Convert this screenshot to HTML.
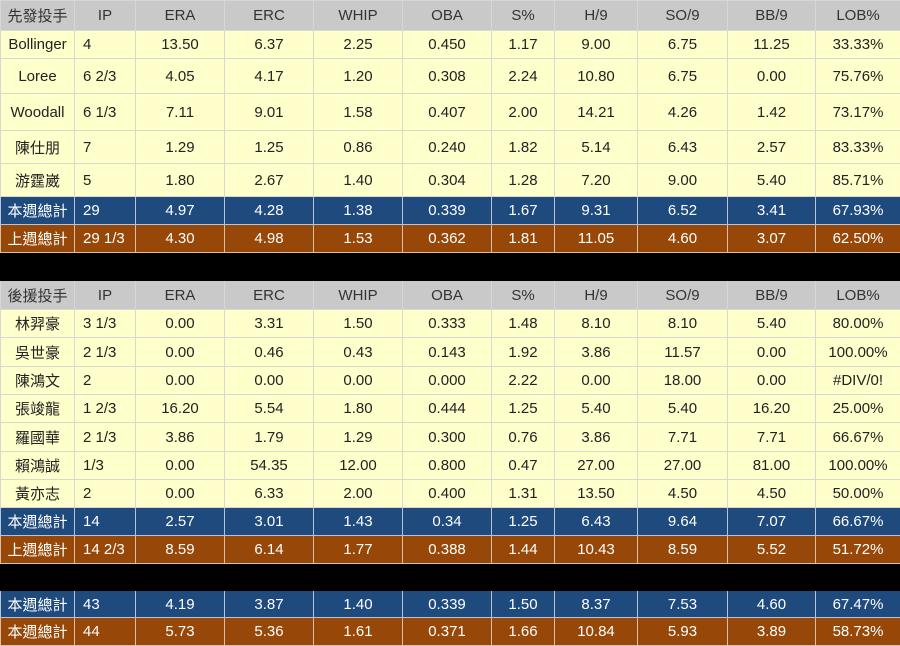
<!DOCTYPE html>
<html><head><meta charset="utf-8"><style>
body{margin:0;width:900px;height:645px;overflow:hidden;background:#fff;font-family:"Liberation Sans","Noto Sans CJK TC",sans-serif;}
table{border-collapse:collapse;table-layout:fixed;width:900px;position:absolute;left:0;}
td{border:1px solid #d8d8d0;text-align:center;font-size:15px;padding:0;white-space:nowrap;overflow:hidden;color:#222;}
td.ip{text-align:left;padding-left:8px;}
tr.h td{background:#c9c9c9;color:#333;}
tr.y td{background:#ffffcc;}
tr.b td{background:#1f4a7e;color:#fff;border-color:#b8c4d4;}
tr.o td{background:#974808;color:#fff;border-color:#d8c0a8;}
tr.k td{background:#000;border-color:#000;}
</style></head><body>
<table style="top:0">
<colgroup><col style="width:74px"><col style="width:61px"><col style="width:89px"><col style="width:89px"><col style="width:89px"><col style="width:89px"><col style="width:63px"><col style="width:83px"><col style="width:90px"><col style="width:88px"><col style="width:85px"></colgroup>
<tr class="h" style="height:30px"><td>先發投手</td><td>IP</td><td>ERA</td><td>ERC</td><td>WHIP</td><td>OBA</td><td>S%</td><td>H/9</td><td>SO/9</td><td>BB/9</td><td>LOB%</td></tr>
<tr class="y" style="height:28px"><td>Bollinger</td><td class="ip">4</td><td>13.50</td><td>6.37</td><td>2.25</td><td>0.450</td><td>1.17</td><td>9.00</td><td>6.75</td><td>11.25</td><td>33.33%</td></tr>
<tr class="y" style="height:35px"><td>Loree</td><td class="ip">6 2/3</td><td>4.05</td><td>4.17</td><td>1.20</td><td>0.308</td><td>2.24</td><td>10.80</td><td>6.75</td><td>0.00</td><td>75.76%</td></tr>
<tr class="y" style="height:37px"><td>Woodall</td><td class="ip">6 1/3</td><td>7.11</td><td>9.01</td><td>1.58</td><td>0.407</td><td>2.00</td><td>14.21</td><td>4.26</td><td>1.42</td><td>73.17%</td></tr>
<tr class="y" style="height:33px"><td>陳仕朋</td><td class="ip">7</td><td>1.29</td><td>1.25</td><td>0.86</td><td>0.240</td><td>1.82</td><td>5.14</td><td>6.43</td><td>2.57</td><td>83.33%</td></tr>
<tr class="y" style="height:33px"><td>游霆崴</td><td class="ip">5</td><td>1.80</td><td>2.67</td><td>1.40</td><td>0.304</td><td>1.28</td><td>7.20</td><td>9.00</td><td>5.40</td><td>85.71%</td></tr>
<tr class="b" style="height:28px"><td>本週總計</td><td class="ip">29</td><td>4.97</td><td>4.28</td><td>1.38</td><td>0.339</td><td>1.67</td><td>9.31</td><td>6.52</td><td>3.41</td><td>67.93%</td></tr>
<tr class="o" style="height:28px"><td>上週總計</td><td class="ip">29 1/3</td><td>4.30</td><td>4.98</td><td>1.53</td><td>0.362</td><td>1.81</td><td>11.05</td><td>4.60</td><td>3.07</td><td>62.50%</td></tr>
<tr class="k" style="height:28px"><td colspan="11"></td></tr>
<tr class="h" style="height:29px"><td>後援投手</td><td>IP</td><td>ERA</td><td>ERC</td><td>WHIP</td><td>OBA</td><td>S%</td><td>H/9</td><td>SO/9</td><td>BB/9</td><td>LOB%</td></tr>
<tr class="y" style="height:28px"><td>林羿豪</td><td class="ip">3 1/3</td><td>0.00</td><td>3.31</td><td>1.50</td><td>0.333</td><td>1.48</td><td>8.10</td><td>8.10</td><td>5.40</td><td>80.00%</td></tr>
<tr class="y" style="height:29px"><td>吳世豪</td><td class="ip">2 1/3</td><td>0.00</td><td>0.46</td><td>0.43</td><td>0.143</td><td>1.92</td><td>3.86</td><td>11.57</td><td>0.00</td><td>100.00%</td></tr>
<tr class="y" style="height:28px"><td>陳鴻文</td><td class="ip">2</td><td>0.00</td><td>0.00</td><td>0.00</td><td>0.000</td><td>2.22</td><td>0.00</td><td>18.00</td><td>0.00</td><td>#DIV/0!</td></tr>
<tr class="y" style="height:28px"><td>張竣龍</td><td class="ip">1 2/3</td><td>16.20</td><td>5.54</td><td>1.80</td><td>0.444</td><td>1.25</td><td>5.40</td><td>5.40</td><td>16.20</td><td>25.00%</td></tr>
<tr class="y" style="height:29px"><td>羅國華</td><td class="ip">2 1/3</td><td>3.86</td><td>1.79</td><td>1.29</td><td>0.300</td><td>0.76</td><td>3.86</td><td>7.71</td><td>7.71</td><td>66.67%</td></tr>
<tr class="y" style="height:28px"><td>賴鴻誠</td><td class="ip">1/3</td><td>0.00</td><td>54.35</td><td>12.00</td><td>0.800</td><td>0.47</td><td>27.00</td><td>27.00</td><td>81.00</td><td>100.00%</td></tr>
<tr class="y" style="height:28px"><td>黃亦志</td><td class="ip">2</td><td>0.00</td><td>6.33</td><td>2.00</td><td>0.400</td><td>1.31</td><td>13.50</td><td>4.50</td><td>4.50</td><td>50.00%</td></tr>
<tr class="b" style="height:28px"><td>本週總計</td><td class="ip">14</td><td>2.57</td><td>3.01</td><td>1.43</td><td>0.34</td><td>1.25</td><td>6.43</td><td>9.64</td><td>7.07</td><td>66.67%</td></tr>
<tr class="o" style="height:28px"><td>上週總計</td><td class="ip">14 2/3</td><td>8.59</td><td>6.14</td><td>1.77</td><td>0.388</td><td>1.44</td><td>10.43</td><td>8.59</td><td>5.52</td><td>51.72%</td></tr>
<tr class="k" style="height:27px"><td colspan="11"></td></tr>
<tr class="b" style="height:27px"><td>本週總計</td><td class="ip">43</td><td>4.19</td><td>3.87</td><td>1.40</td><td>0.339</td><td>1.50</td><td>8.37</td><td>7.53</td><td>4.60</td><td>67.47%</td></tr>
<tr class="o" style="height:28px"><td>本週總計</td><td class="ip">44</td><td>5.73</td><td>5.36</td><td>1.61</td><td>0.371</td><td>1.66</td><td>10.84</td><td>5.93</td><td>3.89</td><td>58.73%</td></tr>
</table>
</body></html>
